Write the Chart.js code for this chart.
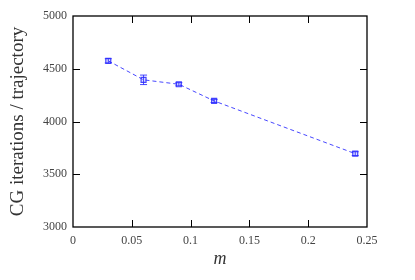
<!DOCTYPE html>
<html>
<head>
<meta charset="utf-8">
<script src="https://cdn.jsdelivr.net/npm/chart.js@4"></script>
<style>
  html, body { margin: 0; padding: 0; background: #fff; }
</style>
</head>
<body>
<canvas id="cgChart" width="415" height="280"></canvas>
<script>
// data
const mValues = [0.03, 0.06, 0.09, 0.12, 0.24];
const cgIters = [4575, 4395, 4353, 4195, 3695];
const cgErrors = [20, 45, 15, 15, 18];
const xTicks = [0, 0.05, 0.1, 0.15, 0.2, 0.25];
const yTicks = [3000, 3500, 4000, 4500, 5000];

const blue = 'rgba(40, 40, 255, 0.85)';
const serif = "'Liberation Serif', 'DejaVu Serif', serif";

// inward ticks on all four sides + error bars
const framePlugin = {
    id: 'frame',
    afterDatasetsDraw(chart) {
        const c = chart.ctx;
        const x = chart.scales.x;
        const y = chart.scales.y;
        const a = chart.chartArea;
        const len = 7;

        c.save();
        c.strokeStyle = blue;
        c.lineWidth = 1;
        const meta = chart.getDatasetMeta(0);
        meta.data.forEach(function(pt, i) {
            const top = y.getPixelForValue(cgIters[i] + cgErrors[i]);
            const bot = y.getPixelForValue(cgIters[i] - cgErrors[i]);
            c.beginPath();
            c.moveTo(pt.x, top); c.lineTo(pt.x, bot);
            c.moveTo(pt.x - 3.5, top); c.lineTo(pt.x + 3.5, top);
            c.moveTo(pt.x - 3.5, bot); c.lineTo(pt.x + 3.5, bot);
            c.stroke();
        });
        c.restore();

        c.save();
        c.strokeStyle = '#000';
        c.lineWidth = 1;
        c.beginPath();
        xTicks.slice(1, -1).forEach(function(v) {
            const px = Math.round(x.getPixelForValue(v)) + 0.5;
            c.moveTo(px, a.bottom); c.lineTo(px, a.bottom - len);
            c.moveTo(px, a.top); c.lineTo(px, a.top + len);
        });
        yTicks.slice(1, -1).forEach(function(v) {
            const py = Math.round(y.getPixelForValue(v)) + 0.5;
            c.moveTo(a.left, py); c.lineTo(a.left + len, py);
            c.moveTo(a.right, py); c.lineTo(a.right - len, py);
        });
        c.stroke();
        c.lineWidth = 1.3;
        c.strokeRect(a.left, a.top, a.right - a.left, a.bottom - a.top);
        c.restore();
    }
};

document.addEventListener('DOMContentLoaded', function() {
    const ctx = document.getElementById('cgChart');

    new Chart(ctx, {
        type: 'scatter',
        data: {
            datasets: [{
                data: mValues.map(function(m, i) { return { x: m, y: cgIters[i] }; }),
                showLine: true,
                borderColor: blue,
                borderWidth: 1,
                borderDash: [4, 3],
                pointStyle: 'rect',
                pointRadius: 3.5,
                pointBorderWidth: 1.2,
                pointBorderColor: blue,
                pointBackgroundColor: 'rgba(40, 40, 255, 0.15)'
            }]
        },
        options: {
            responsive: false,
            animation: false,
            layout: {
                padding: { top: 16, right: 48, left: 0, bottom: 0 }
            },
            plugins: {
                legend: { display: false },
                tooltip: { enabled: false }
            },
            scales: {
                x: {
                    type: 'linear',
                    min: 0,
                    max: 0.25,
                    afterBuildTicks: function(scale) {
                        scale.ticks = xTicks.map(function(v) { return { value: v }; });
                    },
                    afterFit: function(scale) { scale.height = 53; },
                    ticks: {
                        color: '#444',
                        padding: 7,
                        maxRotation: 0,
                        font: { size: 12, family: serif },
                        callback: function(v) { return String(v); }
                    },
                    grid: { display: false, drawTicks: false },
                    border: { display: false },
                    title: {
                        display: true,
                        text: 'm',
                        color: '#333',
                        padding: { top: 2, bottom: 10 },
                        font: { size: 18, family: serif, style: 'italic' }
                    }
                },
                y: {
                    min: 3000,
                    max: 5000,
                    afterBuildTicks: function(scale) {
                        scale.ticks = yTicks.map(function(v) { return { value: v }; });
                    },
                    afterFit: function(scale) { scale.width = 73; },
                    ticks: {
                        color: '#444',
                        padding: 6,
                        font: { size: 12, family: serif },
                        callback: function(v) { return String(v); }
                    },
                    grid: { display: false, drawTicks: false },
                    border: { display: false },
                    title: {
                        display: true,
                        text: 'CG iterations / trajectory',
                        color: '#333',
                        padding: { top: 7, bottom: 0 },
                        font: { size: 19, family: serif }
                    }
                }
            }
        },
        plugins: [framePlugin]
    });
});
</script>
</body>
</html>
